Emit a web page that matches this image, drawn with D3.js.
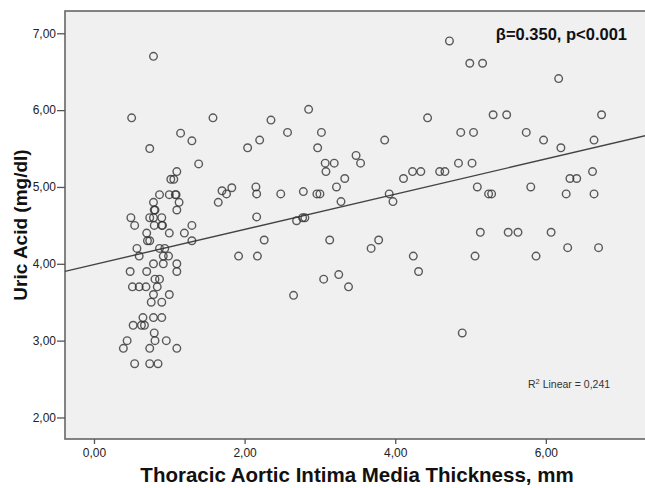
<!DOCTYPE html>
<html>
<head>
<meta charset="utf-8">
<script src="https://cdnjs.cloudflare.com/ajax/libs/d3/7.8.5/d3.min.js"></script>
<style>
	body { margin:0; background:#fff; }
	svg text { font-family: "Liberation Sans", Arial, sans-serif; }
</style>
</head>
<body>
<div id="chart"></div>
<script>

//Data : thoracic aortic IMT (mm) and uric acid (mg/dl)
var taimt = [
	0.79,0.50,1.15,1.30,0.74,1.39,1.10,1.02,1.06,0.87,1.00,1.09,1.08,0.79,1.13,0.80,0.81,1.10,
	0.49,0.74,0.79,0.90,0.54,0.80,0.90,0.91,1.30,0.70,1.00,1.20,0.71,0.74,1.30,0.57,0.87,0.94,
	0.60,0.92,0.99,0.79,0.92,1.10,0.48,0.70,1.10,0.81,0.87,0.51,0.60,0.69,0.84,0.79,1.00,0.76,
	0.90,0.65,0.79,0.90,0.52,0.63,0.67,0.80,0.44,0.81,0.96,0.39,0.74,1.10,0.54,0.74,0.85,
	1.58,1.65,1.70,1.76,1.83,1.92,2.04,2.15,2.16,2.16,2.17,2.20,2.26,2.35,2.48,2.57,2.65,2.69,
	2.77,2.80,2.78,2.85,2.96,3.00,2.97,3.02,3.05,3.07,3.08,3.13,3.19,3.22,3.25,3.28,3.33,3.38,
	3.48,3.54,3.68,3.78,3.86,3.92,3.97,4.11,4.23,4.34,4.24,4.31,4.43,
	4.59,4.66,4.72,4.84,5.02,4.87,5.04,4.89,4.99,5.16,5.06,5.09,5.13,5.24,5.28,5.30,5.48,5.50,
	5.63,5.74,5.80,5.87,5.97,6.07,6.17,6.20,6.27,6.29,6.32,6.41,6.62,6.64,6.64,6.70,6.74
];
var uricAcid = [
	6.70,5.90,5.70,5.60,5.50,5.30,5.20,5.10,5.10,4.90,4.90,4.90,4.90,4.80,4.80,4.70,4.70,4.70,
	4.60,4.60,4.60,4.60,4.50,4.50,4.50,4.50,4.50,4.40,4.40,4.40,4.30,4.30,4.30,4.20,4.20,4.20,
	4.10,4.10,4.10,4.00,4.00,4.00,3.90,3.90,3.90,3.80,3.80,3.70,3.70,3.70,3.70,3.60,3.60,3.50,
	3.50,3.30,3.30,3.30,3.20,3.20,3.20,3.10,3.00,3.00,3.00,2.90,2.90,2.90,2.70,2.70,2.70,
	5.90,4.80,4.95,4.91,4.99,4.10,5.51,5.00,4.91,4.61,4.10,5.61,4.31,5.87,4.91,5.71,3.59,4.56,
	4.60,4.60,4.94,6.01,4.91,4.91,5.51,5.71,3.80,5.31,5.20,4.31,5.31,5.00,3.86,4.81,5.11,3.70,
	5.41,5.31,4.20,4.31,5.61,4.91,4.81,5.11,5.20,5.20,4.10,3.90,5.90,
	5.20,5.20,6.90,5.31,5.31,5.71,5.71,3.10,6.61,6.61,4.10,5.00,4.41,4.91,4.91,5.94,5.94,4.41,
	4.41,5.71,5.00,4.10,5.61,4.41,6.41,5.51,4.91,4.21,5.11,5.11,5.20,4.91,5.61,4.21,5.94
];
var xTicks = [0, 2, 4, 6];
var yTicks = [2, 3, 4, 5, 6, 7];
var fitIntercept = 3.99;
var fitSlope = 0.229;

var w = 645, h = 488;

var svg = d3.select('div#chart').append('svg')
			.attr('width', w)
			.attr('height', h);

var x = d3.scaleLinear().domain([-0.385, 7.33]).range([65, 646]);
var y = d3.scaleLinear().domain([1.72, 7.29]).range([439, 11]);

var comma = function(d){ return d3.format('.2f')(d).replace('.', ','); };

//plot background + frame
svg.append('rect')
	.attr('x', x.range()[0])
	.attr('y', y.range()[1])
	.attr('width', x.range()[1] - x.range()[0])
	.attr('height', y.range()[0] - y.range()[1])
	.attr('fill', '#f0f0f0')
	.attr('stroke', '#666')
	.attr('stroke-width', 1.6);

//axes
var yAxis = svg.append('g')
				.attr('transform', 'translate(' + x.range()[0] + ',0)')
				.call(d3.axisLeft(y).tickValues(yTicks).tickFormat(comma).tickSize(8).tickSizeOuter(0));

var xAxis = svg.append('g')
				.attr('transform', 'translate(0,' + y.range()[0] + ')')
				.call(d3.axisBottom(x).tickValues(xTicks).tickFormat(comma).tickSize(5).tickSizeOuter(0));

svg.selectAll('.domain').remove();
svg.selectAll('.tick line').attr('stroke', '#555').attr('stroke-width', 1.3);
svg.selectAll('.tick text')
	.attr('fill', '#222')
	.style('font-family', '"Liberation Sans", Arial, sans-serif')
	.style('font-size', '12px');
yAxis.selectAll('.tick text').attr('x', -9);
xAxis.selectAll('.tick text').attr('y', 9);

//regression line
var fit = function(v){ return fitIntercept + fitSlope * v; };
svg.append('line')
	.attr('x1', x(x.domain()[0]))
	.attr('y1', y(fit(x.domain()[0])))
	.attr('x2', x(x.domain()[1]))
	.attr('y2', y(fit(x.domain()[1])))
	.attr('stroke', '#444')
	.attr('stroke-width', 1.4);

//points
svg.append('g').selectAll('circle')
	.data(taimt)
	.enter()
	.append('circle')
	.attr('cx', function(d){ return x(d); })
	.attr('cy', function(d,i){ return y(uricAcid[i]); })
	.attr('r', 3.8)
	.attr('fill', 'none')
	.attr('stroke', '#333')
	.attr('stroke-opacity', 0.8)
	.attr('stroke-width', 1.4);

//labels
svg.append('text')
	.attr('x', 357)
	.attr('y', 482)
	.attr('text-anchor', 'middle')
	.style('font-size', '20.5px')
	.style('font-weight', 'bold')
	.attr('fill', '#111')
	.text('Thoracic Aortic Intima Media Thickness, mm');

svg.append('text')
	.attr('transform', 'translate(27,225) rotate(-90)')
	.attr('text-anchor', 'middle')
	.style('font-size', '19px')
	.style('font-weight', 'bold')
	.attr('fill', '#111')
	.text('Uric Acid (mg/dl)');

svg.append('text')
	.attr('x', 627)
	.attr('y', 40)
	.attr('text-anchor', 'end')
	.style('font-size', '16.5px')
	.style('font-weight', 'bold')
	.attr('fill', '#111')
	.text('β=0.350, p<0.001');

var r2 = svg.append('text')
			.attr('x', 528)
			.attr('y', 388)
			.style('font-size', '10.5px')
			.attr('fill', '#333');
r2.append('tspan').text('R');
r2.append('tspan').attr('dy', -4).style('font-size', '7.5px').text('2');
r2.append('tspan').attr('dy', 4).text(' Linear = 0,241');

</script>
</body>
</html>
